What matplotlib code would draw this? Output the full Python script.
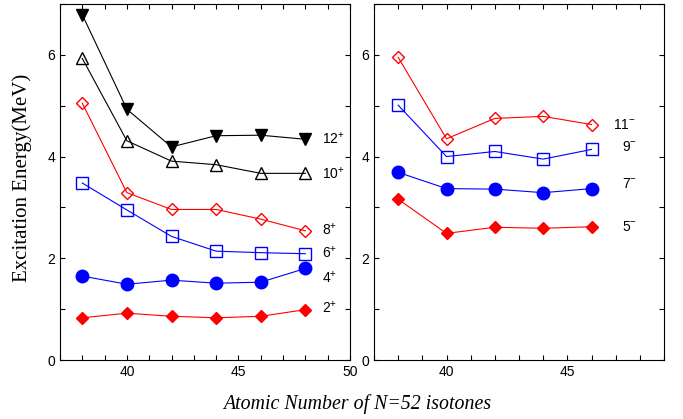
import matplotlib.pyplot as plt
from matplotlib.ticker import MultipleLocator

# atomic numbers of the N=52 isotones
z_pos = [38, 40, 42, 44, 46, 48]
z_neg = [38, 40, 42, 44, 46]

# positive parity yrast states (MeV)
e_2p = [0.83, 0.92, 0.86, 0.83, 0.86, 0.99]
e_4p = [1.65, 1.49, 1.57, 1.51, 1.53, 1.80]
e_6p = [3.48, 2.95, 2.43, 2.14, 2.11, 2.09]
e_8p = [5.05, 3.29, 2.96, 2.96, 2.77, 2.54]
e_10p = [5.93, 4.31, 3.91, 3.84, 3.67, 3.67]
e_12p = [6.79, 4.93, 4.19, 4.41, 4.42, 4.34]

# negative parity states (MeV)
e_5m = [3.16, 2.49, 2.61, 2.59, 2.62]
e_7m = [3.69, 3.37, 3.36, 3.29, 3.37]
e_9m = [5.01, 4.00, 4.10, 3.95, 4.14]
e_11m = [5.95, 4.35, 4.75, 4.79, 4.63]

labels_pos = ['2$^{+}$', '4$^{+}$', '6$^{+}$', '8$^{+}$', '10$^{+}$', '12$^{+}$']
label_y_pos = [1.03, 1.62, 2.12, 2.57, 3.67, 4.36]
labels_neg = ['5$^{-}$', '7$^{-}$', '9$^{-}$', '11$^{-}$']
label_y_neg = [2.61, 3.46, 4.19, 4.62]

plt.rcParams['font.family'] = ['Liberation Sans', 'DejaVu Sans']
plt.rcParams['mathtext.fontset'] = 'custom'
plt.rcParams['mathtext.rm'] = 'Liberation Sans'

fig = plt.figure(figsize=(6.83, 4.19), dpi=100)
ax1 = fig.add_axes([0.0878, 0.1408, 0.4246, 0.8497])
ax2 = fig.add_axes([0.5476, 0.1408, 0.4246, 0.8497])

red, blue = '#ff0000', '#0000ff'
lw = 0.8

ax1.plot(z_pos, e_2p, '-D', color=red, lw=lw, ms=6.5)
ax1.plot(z_pos, e_4p, '-o', color=blue, lw=lw, ms=9)
ax1.plot(z_pos, e_6p, '-s', color=blue, lw=lw, ms=9, mfc='none')
ax1.plot(z_pos, e_8p, '-D', color=red, lw=lw, ms=6.5, mfc='none')
ax1.plot(z_pos, e_10p, '-^', color='black', lw=lw, ms=9, mfc='none')
ax1.plot(z_pos, e_12p, '-v', color='black', lw=lw, ms=9)

ax2.plot(z_neg, e_5m, '-D', color=red, lw=lw, ms=6.5)
ax2.plot(z_neg, e_7m, '-o', color=blue, lw=lw, ms=9)
ax2.plot(z_neg, e_9m, '-s', color=blue, lw=lw, ms=9, mfc='none')
ax2.plot(z_neg, e_11m, '-D', color=red, lw=lw, ms=6.5, mfc='none')

for lab, y in zip(labels_pos, label_y_pos):
    ax1.text(48.75, y, lab, fontsize=10, va='center', ha='left')
for lab, y in zip(labels_neg, label_y_neg):
    x = 46.9 if lab.startswith('11') else 47.25
    ax2.text(x, y, lab, fontsize=10, va='center', ha='left')

ax1.set_xlim(37, 50)
ax2.set_xlim(37, 49)
for ax in (ax1, ax2):
    ax.set_ylim(0, 7)
    ax.xaxis.set_major_locator(MultipleLocator(5))
    ax.xaxis.set_minor_locator(MultipleLocator(1))
    ax.yaxis.set_major_locator(MultipleLocator(2))
    ax.yaxis.set_minor_locator(MultipleLocator(1))
    ax.tick_params(which='both', direction='in', top=True, right=True,
                   length=3.5, width=0.8, labelsize=10)
    for s in ax.spines.values():
        s.set_linewidth(0.8)

fig.text(0.032, 0.575, 'Excitation Energy(MeV)', family='Liberation Serif',
         fontsize=15, rotation=90, ha='center', va='center')
fig.text(0.523, 0.036, 'Atomic Number of N=52 isotones', family='Liberation Serif',
         style='italic', fontsize=14.3, ha='center', va='center')

fig.savefig('out.png', dpi=100)
